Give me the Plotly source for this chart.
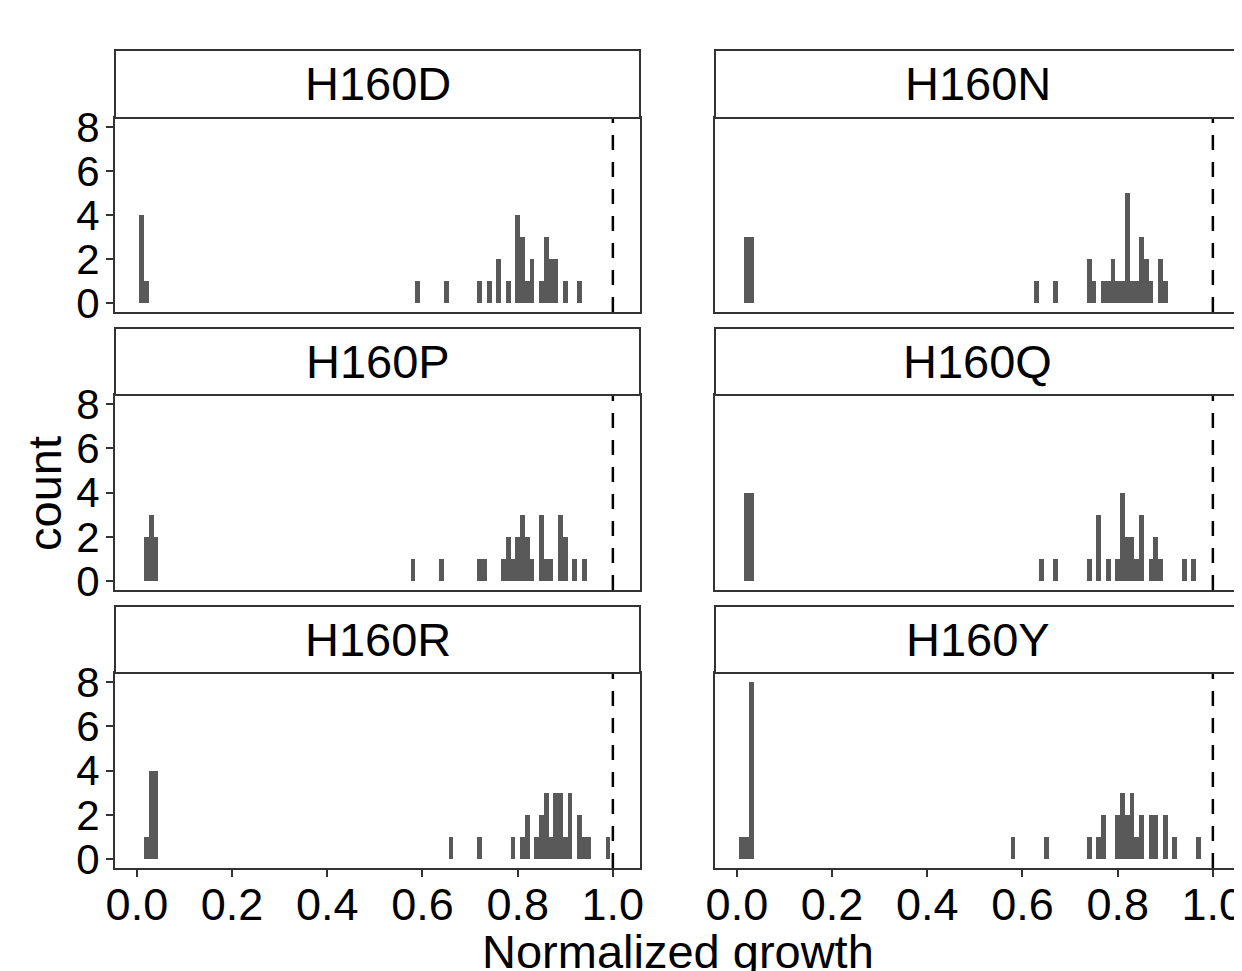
import plotly.graph_objects as go

# ---- data (bin centres, bin width 0.01) ----
panel_names = ["H160D", "H160N", "H160P", "H160Q", "H160R", "H160Y"]

h160d_x = [0.01, 0.02, 0.59, 0.65, 0.72, 0.74, 0.76, 0.78, 0.80, 0.81, 0.82, 0.83, 0.85, 0.86, 0.87, 0.88, 0.90, 0.93]
h160d_n = [4, 1, 1, 1, 1, 1, 2, 1, 4, 3, 1, 2, 1, 3, 2, 2, 1, 1]

h160n_x = [0.02, 0.03, 0.63, 0.67, 0.74, 0.75, 0.77, 0.78, 0.79, 0.80, 0.81, 0.82, 0.83, 0.84, 0.85, 0.86, 0.87, 0.89, 0.90]
h160n_n = [3, 3, 1, 1, 2, 1, 1, 1, 2, 1, 1, 5, 1, 1, 3, 2, 1, 2, 1]

h160p_x = [0.02, 0.03, 0.04, 0.58, 0.64, 0.72, 0.73, 0.77, 0.78, 0.79, 0.80, 0.81, 0.82, 0.83, 0.85, 0.86, 0.87, 0.89, 0.90, 0.92, 0.94]
h160p_n = [2, 3, 2, 1, 1, 1, 1, 1, 2, 1, 2, 3, 2, 1, 3, 1, 1, 3, 2, 1, 1]

h160q_x = [0.02, 0.03, 0.64, 0.67, 0.74, 0.76, 0.78, 0.80, 0.81, 0.82, 0.83, 0.84, 0.85, 0.87, 0.88, 0.89, 0.94, 0.96]
h160q_n = [4, 4, 1, 1, 1, 3, 1, 1, 4, 2, 2, 1, 3, 1, 2, 1, 1, 1]

h160r_x = [0.02, 0.03, 0.04, 0.66, 0.72, 0.79, 0.81, 0.82, 0.84, 0.85, 0.86, 0.87, 0.88, 0.89, 0.90, 0.91, 0.93, 0.94, 0.95, 0.99]
h160r_n = [1, 4, 4, 1, 1, 1, 1, 2, 1, 2, 3, 1, 3, 3, 1, 3, 2, 1, 1, 1]

h160y_x = [0.01, 0.02, 0.03, 0.58, 0.65, 0.74, 0.76, 0.77, 0.80, 0.81, 0.82, 0.83, 0.84, 0.85, 0.87, 0.88, 0.90, 0.92, 0.97]
h160y_n = [1, 1, 8, 1, 1, 1, 1, 2, 2, 3, 2, 3, 1, 2, 2, 2, 2, 1, 1]

x_tickvals = [0.0, 0.2, 0.4, 0.6, 0.8, 1.0]
x_ticktext = ["0.0", "0.2", "0.4", "0.6", "0.8", "1.0"]
y_tickvals = [0, 2, 4, 6, 8]
y_ticktext = ["0", "2", "4", "6", "8"]
reference_line = 1.0
bin_width = 0.01

series = [(h160d_x, h160d_n), (h160n_x, h160n_n), (h160p_x, h160p_n),
          (h160q_x, h160q_n), (h160r_x, h160r_n), (h160y_x, h160y_n)]

# ---- layout geometry (pixels in the target picture) ----
W, H = 1242, 971
OFF = 8  # page body margin
col_px = [(115, 640), (715, 1240)]
row_plot_px = [(118, 312), (395, 590), (673, 868)]
row_strip_px = [(50, 118), (328, 395), (606, 673)]

def px_x(p):
    return (p - OFF) / W

def px_y(p):
    return 1 - (p - OFF) / H

FONT = "Liberation Sans, Arial, sans-serif"
LINE = "#333333"
XTICK_SIZE = 45
YTICK_SIZE = 42

fig = go.Figure()
layout = dict(
    width=W, height=H, margin=dict(l=0, r=0, t=0, b=0, autoexpand=False),
    paper_bgcolor="white", plot_bgcolor="white", showlegend=False,
    font=dict(family=FONT, color="black"), bargap=0,
)
shapes = []
annotations = []

for i, (name, (xs, ns)) in enumerate(zip(panel_names, series)):
    r, c = divmod(i, 2)
    k = i + 1
    xa = "x" if k == 1 else f"x{k}"
    ya = "y" if k == 1 else f"y{k}"
    fig.add_trace(go.Bar(x=xs, y=ns, width=bin_width, marker=dict(color="#595959", line=dict(width=0)),
                         xaxis=xa, yaxis=ya))
    x0, x1 = col_px[c]
    y0, y1 = row_plot_px[r]
    bottom = (r == 2)
    left = (c == 0)
    layout["xaxis" if k == 1 else f"xaxis{k}"] = dict(
        domain=[px_x(x0), px_x(x1)], range=[-0.046, 1.057], anchor=ya, automargin=False,
        showline=True, mirror=True, linecolor=LINE, linewidth=2,
        showgrid=False, zeroline=False,
        tickvals=x_tickvals, ticktext=x_ticktext,
        ticks="outside" if bottom else "", ticklen=7, tickwidth=2, tickcolor=LINE,
        ticklabelstandoff=-11,
        showticklabels=bottom, tickfont=dict(size=XTICK_SIZE, family=FONT, color="black"),
    )
    layout["yaxis" if k == 1 else f"yaxis{k}"] = dict(
        domain=[px_y(y1), px_y(y0)], range=[-0.4, 8.4], anchor=xa, automargin=False,
        showline=True, mirror=True, linecolor=LINE, linewidth=2,
        showgrid=False, zeroline=False,
        tickvals=y_tickvals, ticktext=y_ticktext,
        ticks="outside" if left else "", ticklen=7, tickwidth=2, tickcolor=LINE,
        ticklabelstandoff=-2,
        showticklabels=left, tickfont=dict(size=YTICK_SIZE, family=FONT, color="black"),
    )
    # dashed reference line
    shapes.append(dict(type="line", xref=xa, yref=f"{ya} domain", x0=reference_line, x1=reference_line,
                       y0=0, y1=1, line=dict(color="black", width=2.5, dash="15px,12px")))
    # strip
    s0, s1 = row_strip_px[r]
    shapes.append(dict(type="rect", xref="paper", yref="paper", x0=px_x(x0), x1=px_x(x1),
                       y0=px_y(s1), y1=px_y(s0), line=dict(color=LINE, width=2), fillcolor="white"))
    annotations.append(dict(text=name, xref="paper", yref="paper", x=px_x((x0 + x1) / 2),
                            y=px_y((s0 + s1) / 2), showarrow=False, xanchor="center", yanchor="middle",
                            font=dict(size=47, family=FONT, color="black")))

annotations.append(dict(text="Normalized growth", xref="paper", yref="paper", x=px_x(678), y=px_y(951),
                        showarrow=False, xanchor="center", yanchor="middle",
                        font=dict(size=47, family=FONT, color="black")))
annotations.append(dict(text="count", xref="paper", yref="paper", x=px_x(45), y=px_y(494),
                        showarrow=False, xanchor="center", yanchor="middle", textangle=-90,
                        font=dict(size=47, family=FONT, color="black")))

layout["shapes"] = shapes
layout["annotations"] = annotations
fig.update_layout(**layout)
fig.write_html("out.html")
